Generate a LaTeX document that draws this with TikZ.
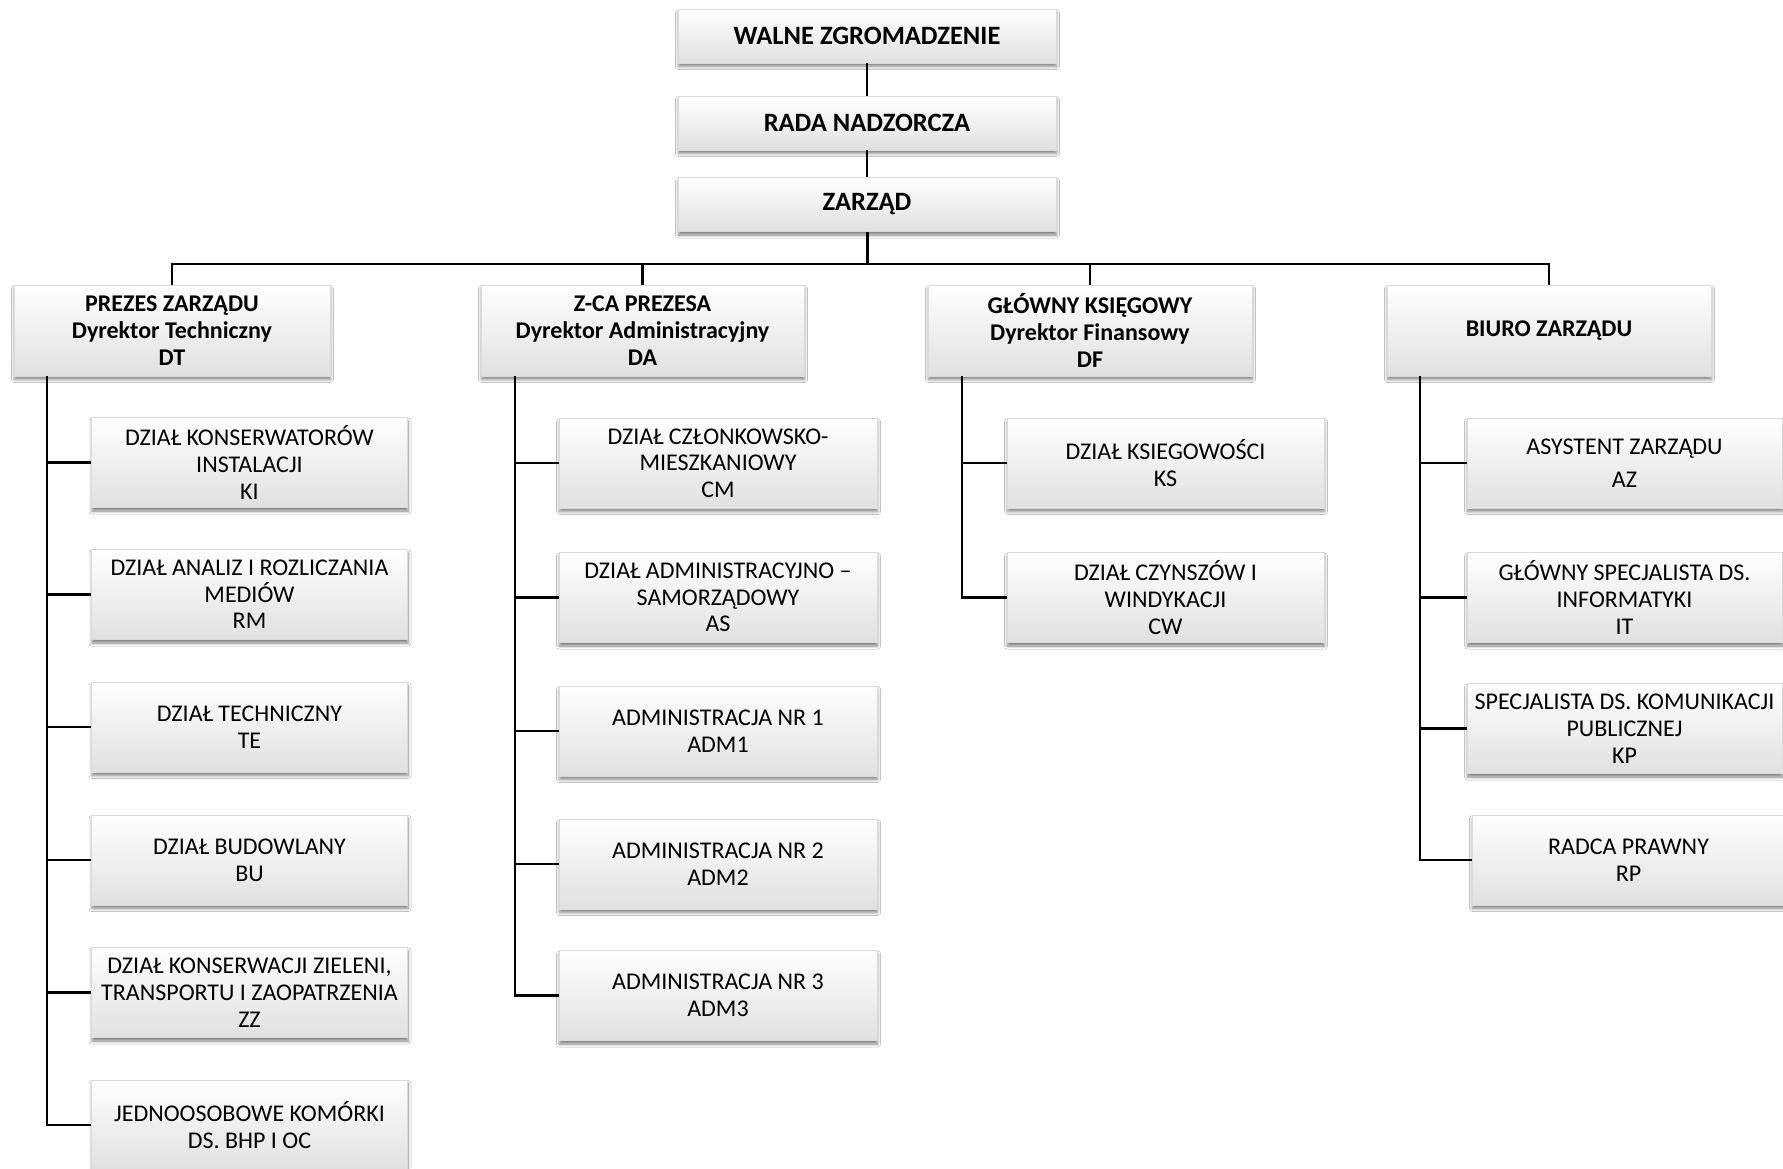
\documentclass[tikz,border=0pt]{standalone}
\usepackage{fontspec}
\setmainfont{Carlito}
\usetikzlibrary{shadows.blur,calc}
\begin{document}
\begin{tikzpicture}[x=1pt,y=-1pt,
  box/.style={rectangle, draw=black!14, line width=0.8pt,
    top color=white, middle color=white!97!black, bottom color=black!12,
    blur shadow={shadow xshift=0.5pt, shadow yshift=-3.5pt, shadow blur steps=6, shadow blur radius=3pt, shadow opacity=50},
    align=center, inner sep=0pt, font=\fontsize{24}{26.7}\selectfont},
  topbox/.style={box, minimum width=378, minimum height=54, font=\fontsize{26.5}{28}\selectfont\bfseries},
  headbox/.style={box, minimum height=91, font=\fontsize{24}{26.7}\selectfont\bfseries},
  unitbox/.style={box, minimum width=316, minimum height=90},
  link/.style={draw=black, line width=2.6pt},
  thin/.style={draw=black, line width=2.2pt}
]
\fill[white] (0,0) rectangle (1783,1168);
\useasboundingbox (0,0) rectangle (1783,1168);

% top
\node[topbox] (wz) at (867,36) {WALNE ZGROMADZENIE};
\node[topbox] (rn) at (867,123) {RADA NADZORCZA};
\node[topbox] (zr) at (867,204.5) {ZARZĄD};

% heads
\node[headbox, minimum width=316] (dt) at (172,330.5) {PREZES ZARZĄDU\\Dyrektor Techniczny\\DT};
\node[headbox, minimum width=323] (da) at (642.5,330.5) {Z-CA PREZESA\\Dyrektor Administracyjny\\DA};
\node[headbox, minimum width=324] (df) at (1090,330.5) {GŁÓWNY KSIĘGOWY\\Dyrektor Finansowy\\DF};
\node[headbox, minimum width=324] (bz) at (1549,330.5) {BIURO ZARZĄDU};

% column 1
\node[unitbox] (ki) at (249.5,462.5) {DZIAŁ KONSERWATORÓW\\INSTALACJI\\KI};
\node[unitbox] (rm) at (249.5,594.5) {DZIAŁ ANALIZ I ROZLICZANIA\\MEDIÓW\\RM};
\node[unitbox] (te) at (249.5,727) {DZIAŁ TECHNICZNY\\TE};
\node[unitbox] (bu) at (249.5,860) {DZIAŁ BUDOWLANY\\BU};
\node[unitbox] (zz) at (249.5,992.5) {DZIAŁ KONSERWACJI ZIELENI,\\TRANSPORTU I ZAOPATRZENIA\\ZZ};
\node[unitbox] (jk) at (249.5,1125) {JEDNOOSOBOWE KOMÓRKI\\DS. BHP I OC};

% column 2
\node[unitbox, minimum width=318] (cm) at (718,463) {DZIAŁ CZŁONKOWSKO-\\MIESZKANIOWY\\CM};
\node[unitbox, minimum width=318] (as) at (718,597.5) {DZIAŁ ADMINISTRACYJNO –\\SAMORZĄDOWY\\AS};
\node[unitbox, minimum width=318] (a1) at (718,731) {ADMINISTRACJA NR 1\\ADM1};
\node[unitbox, minimum width=318] (a2) at (718,864) {ADMINISTRACJA NR 2\\ADM2};
\node[unitbox, minimum width=318] (a3) at (718,995.5) {ADMINISTRACJA NR 3\\ADM3};

% column 3
\node[unitbox, minimum width=317] (ks) at (1165.5,463) {DZIAŁ KSIEGOWOŚCI\\KS};
\node[unitbox, minimum width=317] (cw) at (1165.5,597.5) {DZIAŁ CZYNSZÓW I\\WINDYKACJI\\CW};

% column 4
\node[unitbox, minimum width=315] (az) at (1624.5,463) {ASYSTENT ZARZĄDU\\[6pt]AZ};
\node[unitbox, minimum width=315] (it) at (1624.5,597.5) {GŁÓWNY SPECJALISTA DS.\\INFORMATYKI\\IT};
\node[unitbox, minimum width=315] (kp) at (1624.5,728.5) {SPECJALISTA DS. KOMUNIKACJI\\PUBLICZNEJ\\KP};
\node[unitbox, minimum width=313] (rp) at (1628.5,860) {RADCA PRAWNY\\RP};

% top connectors
\draw[link] (wz.south) -- (rn.north);
\draw[link] (rn.south) -- (zr.north);
\coordinate (bus) at (867,264);
\draw[link, line width=3pt] (zr.south) -- (bus);
\draw[link] (dt.north) |- (bus) -| (bz.north);
\draw[link] (da.north) -- (da.north |- bus);
\draw[link] (df.north) -- (df.north |- bus);

% trunks
\coordinate (t1) at (47,376);
\coordinate (t2) at (515,376);
\coordinate (t3) at (962,376);
\coordinate (t4) at (1420,376);

\draw[link] (t1) |- (jk.west);
\foreach \n in {ki,rm,te,bu,zz} \draw[thin] (t1 |- \n.west) -- (\n.west);
\draw[link] (t2) |- (a3.west);
\foreach \n in {cm,as,a1,a2} \draw[thin] (t2 |- \n.west) -- (\n.west);
\draw[link] (t3) |- (cw.west);
\draw[thin] (t3 |- ks.west) -- (ks.west);
\draw[link] (t4) |- (rp.west);
\foreach \n in {az,it,kp} \draw[thin] (t4 |- \n.west) -- (\n.west);
\end{tikzpicture}
\end{document}
